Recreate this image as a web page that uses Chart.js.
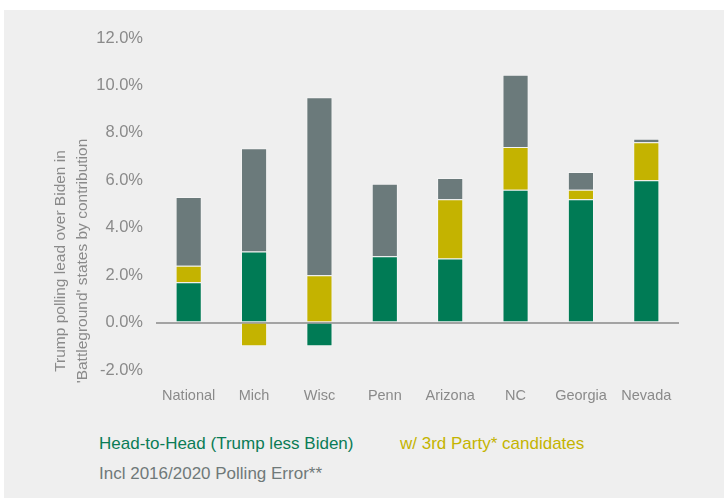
<!DOCTYPE html>
<html>
<head>
<meta charset="utf-8">
<script src="https://cdn.jsdelivr.net/npm/chart.js@4.4.1/dist/chart.umd.min.js"></script>
<style>
  body { margin: 0; background: #fff; font-family: "Liberation Sans", Arial, sans-serif; }
  #panel { position: absolute; left: 4px; top: 10px; width: 720px; height: 488px; background: #efefef; }
  #chartBox { position: absolute; left: 0; top: 0; width: 720px; height: 410px; }
  .leg { position: absolute; font-size: 17px; white-space: nowrap; }
</style>
</head>
<body>
<div id="panel">
  <div id="chartBox"><canvas id="myChart" width="720" height="410"></canvas></div>
  <div class="leg" style="left:95px; top:424px; color:#0a7c56;">Head-to-Head (Trump less Biden)</div>
  <div class="leg" style="left:396px; top:424px; color:#c4b400;">w/ 3rd Party* candidates</div>
  <div class="leg" style="left:95px; top:454px; color:#6f7979;">Incl 2016/2020 Polling Error**</div>
</div>
<script>
// states / categories
const states = ['National', 'Mich', 'Wisc', 'Penn', 'Arizona', 'NC', 'Georgia', 'Nevada'];

// Trump lead, head to head (pct points)
const headToHead = [1.7, 3.0, -1.0, 2.8, 2.7, 5.6, 5.2, 6.0];
// extra from adding 3rd party candidates
const thirdParty = [0.7, -1.0, 2.0, 0, 2.5, 1.8, 0.4, 1.6];
// extra from 2016/2020 polling error
const pollingError = [2.9, 4.35, 7.5, 3.05, 0.9, 3.05, 0.75, 0.15];

const yTicks = [-2, 0, 2, 4, 6, 8, 10, 12];
const yTitle = ["Trump polling lead over Biden in", "'Battleground' states by contribution"];

// rotated y title, drawn by hand so it sits where the original has it
const yTitlePlugin = {
  id: 'yTitle',
  afterDraw(chart) {
    const ctx = chart.ctx;
    ctx.save();
    ctx.font = '15.5px "Liberation Sans", Arial, sans-serif';
    ctx.fillStyle = '#8a8a8a';
    ctx.textAlign = 'center';
    ctx.textBaseline = 'middle';
    ctx.translate(57, 251);
    ctx.rotate(-Math.PI / 2);
    ctx.fillText(yTitle[0], 0, 0);
    ctx.fillText(yTitle[1], 0, 22);
    ctx.restore();
  }
};

const barBorder = 'rgba(255,255,255,0.4)';

new Chart(document.getElementById('myChart'), {
  type: 'bar',
  data: {
    labels: states,
    datasets: [
      { label: 'Head-to-Head', data: headToHead, backgroundColor: '#007b55', borderColor: barBorder, borderWidth: 1 },
      { label: 'w/ 3rd Party', data: thirdParty, backgroundColor: '#c4b300', borderColor: barBorder, borderWidth: 1 },
      { label: 'Polling Error', data: pollingError, backgroundColor: '#6b7a7b', borderColor: barBorder, borderWidth: 1 }
    ]
  },
  options: {
    responsive: false,
    animation: false,
    layout: { padding: { top: 28, right: 45, left: 0, bottom: 0 } },
    datasets: { bar: { categoryPercentage: 1.0, barPercentage: 0.4 } },
    plugins: { legend: { display: false }, tooltip: { enabled: false } },
    scales: {
      x: {
        stacked: true,
        grid: { display: false, drawTicks: false },
        border: { display: false },
        ticks: { color: '#8a8a8a', padding: 17, font: { family: '"Liberation Sans", Arial, sans-serif', size: 14.5 } },
        afterFit: (scale) => { scale.height = 50; }
      },
      y: {
        stacked: true,
        min: -2,
        max: 12,
        afterBuildTicks: (scale) => { scale.ticks = yTicks.map(v => ({ value: v })); },
        grid: {
          drawTicks: false,
          lineWidth: 2,
          color: (c) => (c.tick && c.tick.value === 0 ? '#a3a3a3' : 'transparent')
        },
        border: { display: false },
        ticks: {
          color: '#8a8a8a',
          padding: 13,
          font: { family: '"Liberation Sans", Arial, sans-serif', size: 16.5 },
          callback: (v) => v.toFixed(1) + '%'
        },
        afterFit: (scale) => { scale.width = 152; }
      }
    }
  },
  plugins: [yTitlePlugin]
});
</script>
</body>
</html>
